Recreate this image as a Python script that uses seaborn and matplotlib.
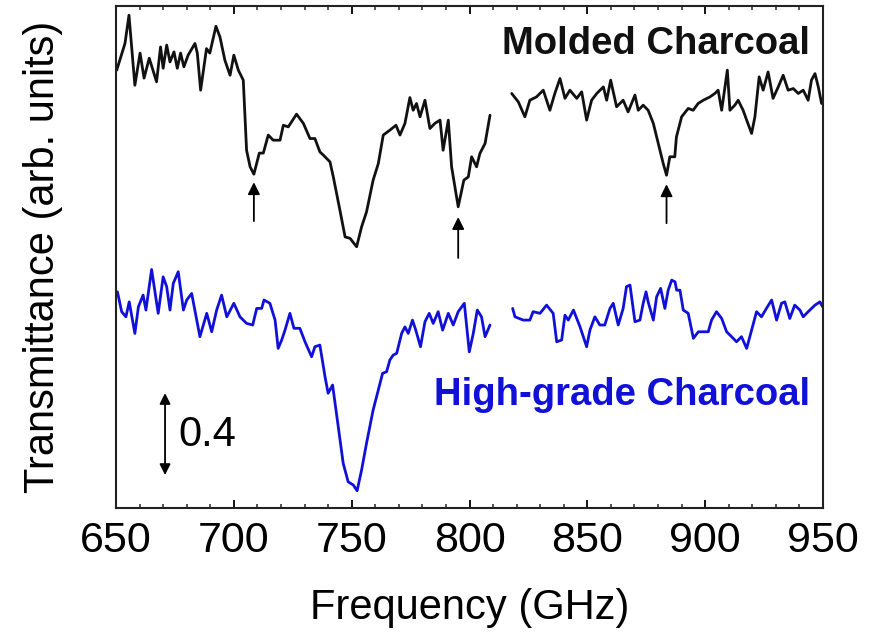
import matplotlib
matplotlib.use("Agg")
import matplotlib.pyplot as plt
from matplotlib.ticker import MultipleLocator
import seaborn as sns
import pandas as pd

# ---------------- data ----------------
black_left_freq = [650.3, 653.8, 655.5, 658.0, 660.2, 661.9, 664.1, 667.2, 668.9, 670.0, 671.5, 672.9,
                   674.6, 676.0, 677.4, 678.8, 680.6, 683.5, 684.5, 685.9, 688.4, 689.8, 692.4, 694.1,
                   696.2, 698.4, 700.0, 701.9, 704.0, 705.4, 706.9, 708.5, 710.8, 712.5, 714.6, 716.7,
                   719.6, 721.0, 723.1, 726.6, 729.5, 732.3, 734.4, 736.5, 738.0, 740.8, 742.2, 745.0,
                   747.2, 749.3, 752.1, 754.2, 756.3, 759.1, 761.3, 763.4, 766.2, 768.8, 770.5, 772.6,
                   774.7, 776.1, 777.5, 779.0, 781.1, 783.2, 785.3, 787.5, 788.8, 791.0, 792.4, 795.2,
                   797.6, 799.5, 800.9, 803.0, 804.4, 806.6, 808.7]
black_left_val = [2.137, 2.267, 2.405, 2.063, 2.220, 2.098, 2.195, 2.080, 2.250, 2.146, 2.259, 2.177,
                  2.226, 2.146, 2.220, 2.153, 2.210, 2.267, 2.220, 2.039, 2.242, 2.220, 2.351, 2.299,
                  2.185, 2.112, 2.210, 2.137, 2.088, 1.746, 1.665, 1.629, 1.732, 1.732, 1.820, 1.795,
                  1.795, 1.868, 1.860, 1.922, 1.877, 1.803, 1.803, 1.738, 1.722, 1.689, 1.616, 1.454,
                  1.323, 1.316, 1.275, 1.372, 1.445, 1.600, 1.681, 1.820, 1.844, 1.868, 1.820, 1.877,
                  2.003, 1.941, 1.974, 1.909, 1.990, 1.852, 1.877, 1.893, 1.746, 1.893, 1.665, 1.470,
                  1.600, 1.616, 1.714, 1.665, 1.730, 1.779, 1.917]

black_right_freq = [817.9, 820.7, 823.5, 825.6, 828.4, 831.3, 834.1, 836.2, 838.4, 840.5, 842.6, 845.5,
                    847.6, 849.7, 851.8, 854.0, 856.8, 858.2, 859.9, 862.4, 865.2, 867.3, 870.2, 871.6,
                    873.7, 875.8, 878.0, 880.1, 882.2, 883.6, 885.0, 887.1, 887.8, 890.0, 892.8, 894.9,
                    897.0, 899.2, 902.0, 904.1, 905.5, 907.0, 908.4, 909.4, 910.5, 912.6, 914.0, 916.1,
                    917.6, 919.7, 921.1, 922.9, 924.6, 926.7, 928.8, 931.0, 933.1, 935.2, 937.4, 939.5,
                    941.6, 943.7, 945.1, 946.6, 948.0, 949.4]
black_right_val = [2.023, 1.982, 1.909, 1.990, 2.006, 2.039, 1.941, 2.023, 2.096, 1.999, 2.039, 1.999,
                   2.031, 1.893, 1.990, 2.023, 2.055, 1.990, 2.088, 1.958, 1.990, 1.933, 2.015, 1.941,
                   1.966, 1.941, 1.877, 1.779, 1.681, 1.624, 1.714, 1.714, 1.811, 1.909, 1.950, 1.941,
                   1.974, 1.990, 2.006, 2.023, 2.039, 1.941, 2.055, 2.137, 1.941, 1.966, 1.990, 1.941,
                   1.893, 1.828, 1.909, 2.104, 2.039, 2.128, 1.999, 2.055, 2.112, 2.039, 2.047, 2.023,
                   2.039, 1.990, 2.088, 2.120, 2.055, 1.974]

blue_left_freq = [650.6, 652.4, 654.2, 655.6, 658.0, 659.5, 661.5, 662.7, 665.1, 667.9, 670.0, 671.5,
                  672.9, 674.3, 676.4, 678.6, 680.0, 682.1, 685.6, 688.5, 690.6, 692.7, 694.8, 697.0,
                  700.0, 702.6, 705.4, 708.0, 709.7, 711.8, 712.8, 715.3, 717.5, 718.8, 720.3, 721.7,
                  723.8, 725.5, 728.0, 730.2, 733.0, 734.4, 736.5, 738.7, 740.0, 741.9, 744.3, 746.4,
                  748.5, 750.7, 752.3, 754.2, 756.3, 759.1, 761.3, 763.1, 764.8, 766.2, 767.6, 769.1,
                  771.2, 772.6, 774.0, 775.8, 777.2, 779.2, 781.1, 782.9, 784.6, 786.7, 788.6, 791.0,
                  793.1, 795.2, 797.8, 799.9, 801.6, 803.3, 805.1, 806.6, 808.7]
blue_left_val = [1.055, 0.958, 0.933, 1.006, 0.852, 0.982, 1.039, 0.966, 1.164, 0.950, 1.128, 1.080,
                 0.966, 1.096, 1.153, 0.966, 1.015, 1.047, 0.836, 0.950, 0.860, 0.966, 1.039, 0.933,
                 0.999, 0.933, 0.901, 0.893, 0.974, 0.974, 1.015, 0.999, 0.917, 0.779, 0.820, 0.868,
                 0.950, 0.877, 0.877, 0.811, 0.738, 0.787, 0.795, 0.640, 0.560, 0.600, 0.397, 0.218,
                 0.128, 0.112, 0.084, 0.185, 0.316, 0.478, 0.576, 0.657, 0.665, 0.722, 0.746, 0.755,
                 0.852, 0.884, 0.852, 0.917, 0.868, 0.787, 0.909, 0.950, 0.901, 0.958, 0.868, 0.950,
                 0.893, 0.958, 0.999, 0.762, 0.852, 0.966, 0.933, 0.836, 0.893]

blue_right_freq = [818.3, 819.3, 822.8, 825.6, 827.0, 829.9, 832.7, 835.5, 837.0, 839.1, 840.5, 841.9,
                   844.1, 846.9, 849.7, 851.1, 853.2, 855.3, 857.4, 859.6, 861.0, 863.1, 865.2, 866.6,
                   868.1, 870.2, 872.3, 873.7, 874.9, 875.8, 878.0, 879.4, 881.1, 882.9, 884.3, 885.8,
                   887.2, 887.9, 889.3, 890.7, 892.8, 895.0, 897.1, 899.2, 901.3, 902.7, 904.8, 907.0,
                   909.1, 911.2, 913.3, 915.4, 917.6, 919.7, 921.8, 923.9, 926.0, 928.2, 930.3, 932.4,
                   933.8, 935.9, 938.0, 940.2, 941.6, 943.7, 946.6, 948.7, 949.8]
blue_right_val = [0.974, 0.933, 0.917, 0.917, 0.958, 0.950, 0.990, 0.950, 0.811, 0.820, 0.941, 0.917,
                  0.966, 0.884, 0.787, 0.868, 0.933, 0.893, 0.893, 0.974, 0.999, 0.893, 0.974, 1.080,
                  1.088, 0.909, 0.917, 0.999, 1.055, 1.006, 0.917, 1.031, 1.072, 0.974, 1.063, 1.112,
                  1.104, 1.063, 1.063, 0.966, 0.950, 0.828, 0.860, 0.860, 0.860, 0.917, 0.958, 0.925,
                  0.860, 0.836, 0.811, 0.836, 0.779, 0.868, 0.958, 0.933, 0.974, 1.015, 0.917, 0.999,
                  1.006, 0.925, 0.990, 0.966, 0.933, 0.958, 0.990, 1.006, 0.982]

# arrows marking molded-charcoal dips: (frequency, tail, head)
dip_arrow_freq = [708.5, 795.2, 883.6]
dip_arrow_tail = [1.40, 1.22, 1.39]
dip_arrow_head = [1.59, 1.42, 1.58]

x_ticks = [650, 700, 750, 800, 850, 900, 950]

# ---------------- plot ----------------
sns.set_theme(style="white")
plt.rcParams['font.family'] = ['Liberation Sans', 'DejaVu Sans']

fig = plt.figure(figsize=(8.71, 6.35), dpi=100)
ax = fig.add_axes([0.1332, 0.2, 0.8117, 0.7906])

segments = [
    ("Molded", black_left_freq, black_left_val, "#111111"),
    ("Molded", black_right_freq, black_right_val, "#111111"),
    ("High", blue_left_freq, blue_left_val, "#1010d8"),
    ("High", blue_right_freq, blue_right_val, "#1010d8"),
]
for name, f, v, c in segments:
    df = pd.DataFrame({"freq": f, "T": v})
    sns.lineplot(data=df, x="freq", y="T", ax=ax, color=c, lw=2.0,
                 sort=False, estimator=None)

for f, t, h in zip(dip_arrow_freq, dip_arrow_tail, dip_arrow_head):
    ax.annotate("", xy=(f, h), xytext=(f, t),
                arrowprops=dict(arrowstyle="-|>", color="black", lw=1.3,
                                mutation_scale=18, shrinkA=0, shrinkB=0))

# scale bar 0.4
ax.annotate("", xy=(670.8, 0.561), xytext=(670.8, 0.161),
            arrowprops=dict(arrowstyle="<|-|>", color="black", lw=1.3,
                            mutation_scale=16, shrinkA=0, shrinkB=0))
ax.text(676.5, 0.355, "0.4", fontsize=30, va="center", ha="left", color="black")

ax.text(944.5, 2.265, "Molded Charcoal", fontsize=27.5, fontweight="bold",
        ha="right", va="center", color="#111111")
ax.text(944.5, 0.55, "High-grade Charcoal", fontsize=27.5, fontweight="bold",
        ha="right", va="center", color="#1010d8")

ax.set_xlim(650, 950)
ax.set_ylim(0, 2.45)
ax.set_xticks(x_ticks)
ax.xaxis.set_minor_locator(MultipleLocator(10))
ax.set_yticks([])
ax.tick_params(axis="x", which="major", direction="in", length=6, width=1.3,
               top=True, bottom=True, labelsize=31, pad=9, colors="black")
ax.tick_params(axis="x", which="minor", direction="in", length=3, width=1.1,
               top=True, bottom=True)
for s in ax.spines.values():
    s.set_color("#222222")
    s.set_linewidth(1.5)

ax.set_xlabel("Frequency (GHz)", fontsize=30, labelpad=20, color="black")
ax.set_ylabel("Transmittance (arb. units)", fontsize=30, labelpad=38, color="black")

fig.savefig("out.png", dpi=100)
